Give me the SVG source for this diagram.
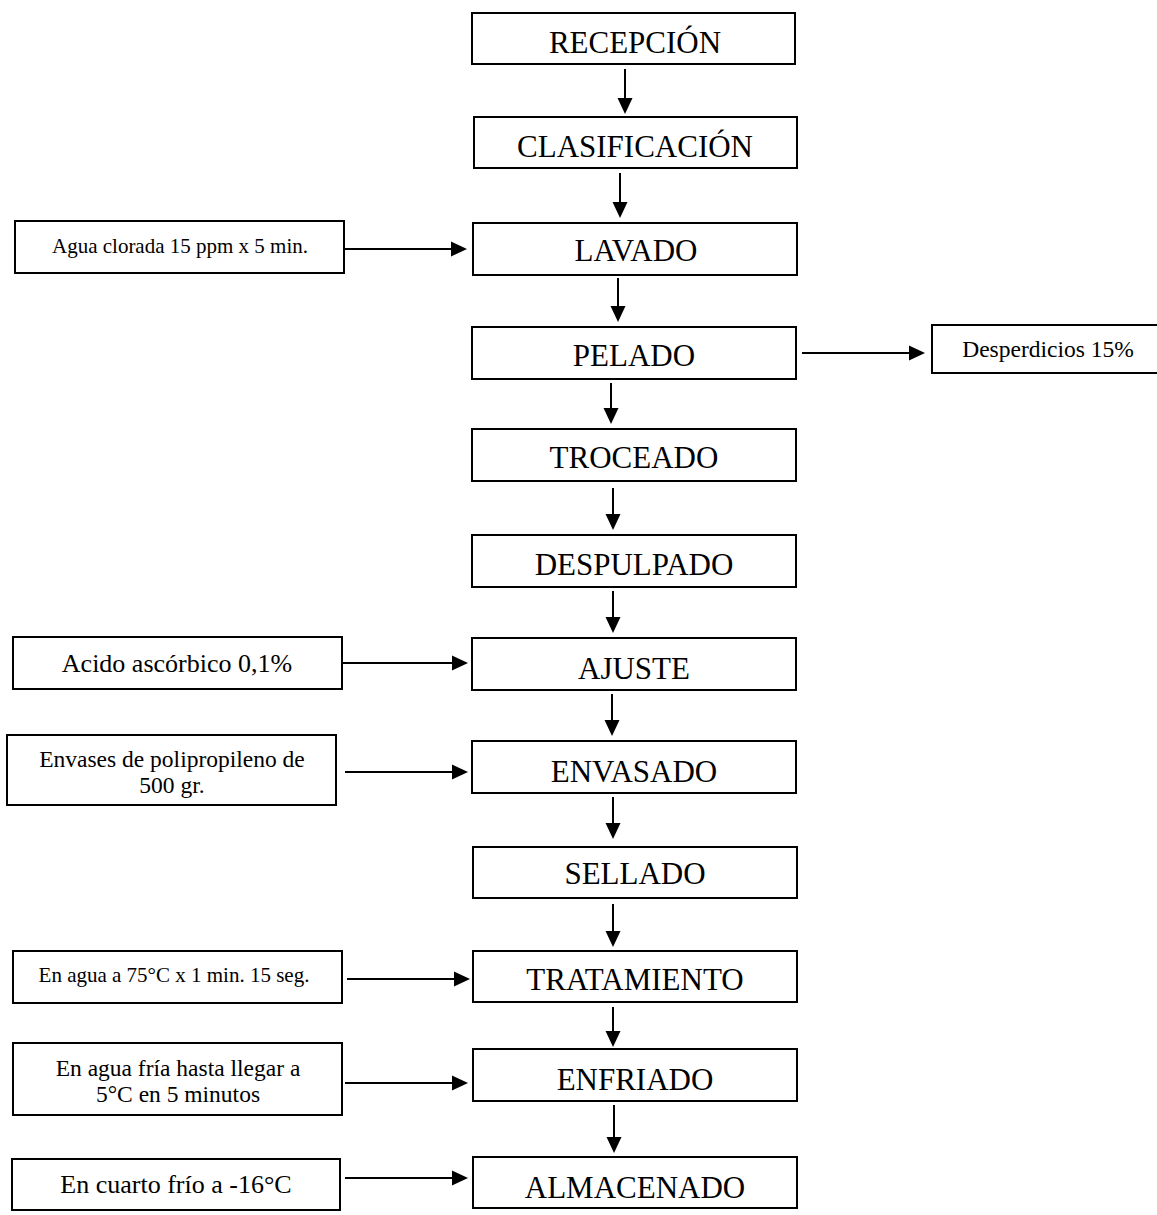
<svg xmlns="http://www.w3.org/2000/svg" width="1157" height="1215" viewBox="0 0 1157 1215">
<style>
rect{fill:#fff;stroke:#000;stroke-width:2}
text{font-family:"Liberation Serif","Times New Roman",serif;fill:#000;text-anchor:middle}
.m{font-size:31px}
.c line{stroke:#000;stroke-width:2;marker-end:url(#ah)}
</style>
<defs>
<marker id="ah" markerUnits="userSpaceOnUse" markerWidth="17" markerHeight="16" refX="0" refY="8" orient="auto" viewBox="0 0 17 16">
<path d="M0,0.5 L16,8 L0,15.5 z" fill="#000"/>
</marker>
</defs>
<rect x="0" y="0" width="1157" height="1215" style="stroke:none"/>
<g id="recepcion"><rect x="472" y="13" width="323" height="51"/><text class="m" x="635" y="53">RECEPCIÓN</text></g>
<g id="clasificacion"><rect x="474" y="117" width="323" height="51"/><text class="m" x="635" y="157">CLASIFICACIÓN</text></g>
<g id="lavado"><rect x="473" y="223" width="324" height="52"/><text class="m" x="636" y="261">LAVADO</text></g>
<g id="pelado"><rect x="472" y="327" width="324" height="52"/><text class="m" x="634" y="366">PELADO</text></g>
<g id="troceado"><rect x="472" y="429" width="324" height="52"/><text class="m" x="634" y="468">TROCEADO</text></g>
<g id="despulpado"><rect x="472" y="535" width="324" height="52"/><text class="m" x="634" y="575">DESPULPADO</text></g>
<g id="ajuste"><rect x="472" y="638" width="324" height="52"/><text class="m" x="634" y="679">AJUSTE</text></g>
<g id="envasado"><rect x="472" y="741" width="324" height="52"/><text class="m" x="634" y="782">ENVASADO</text></g>
<g id="sellado"><rect x="473" y="847" width="324" height="51"/><text class="m" x="635" y="884">SELLADO</text></g>
<g id="tratamiento"><rect x="473" y="951" width="324" height="51"/><text class="m" x="635" y="990">TRATAMIENTO</text></g>
<g id="enfriado"><rect x="473" y="1049" width="324" height="52"/><text class="m" x="635" y="1090">ENFRIADO</text></g>
<g id="almacenado"><rect x="473" y="1157" width="324" height="51"/><text class="m" x="635" y="1198">ALMACENADO</text></g>

<g id="agua"><rect x="15" y="221" width="329" height="52"/><text x="180" y="253" font-size="21">Agua clorada 15 ppm x 5 min.</text></g>
<g id="desperdicios"><rect x="932" y="325" width="230" height="48"/><text x="1048" y="357" font-size="23.5">Desperdicios 15%</text></g>
<g id="acido"><rect x="13" y="637" width="329" height="52"/><text x="177" y="672" font-size="26">Acido ascórbico 0,1%</text></g>
<g id="envases"><rect x="7" y="735" width="329" height="70"/><text x="172" y="767" font-size="23.5">Envases de polipropileno de</text><text x="172" y="793" font-size="23.5">500 gr.</text></g>
<g id="agua75"><rect x="13" y="951" width="329" height="52"/><text x="174" y="982" font-size="21">En agua a 75°C x 1 min. 15  seg.</text></g>
<g id="aguafria"><rect x="13" y="1043" width="329" height="72"/><text x="178" y="1076" font-size="23.5">En agua fría hasta llegar a</text><text x="178" y="1102" font-size="23.5">5°C en 5 minutos</text></g>
<g id="cuarto"><rect x="12" y="1159" width="328" height="51"/><text x="176" y="1193" font-size="26">En cuarto frío a -16°C</text></g>

<g id="connectors" class="c">
<line x1="625" y1="69" x2="625" y2="98"/>
<line x1="620" y1="173" x2="620" y2="202"/>
<line x1="618" y1="278" x2="618" y2="306"/>
<line x1="611" y1="383" x2="611" y2="408"/>
<line x1="613" y1="488" x2="613" y2="514"/>
<line x1="613" y1="591" x2="613" y2="617"/>
<line x1="612" y1="694" x2="612" y2="720"/>
<line x1="613" y1="797" x2="613" y2="823"/>
<line x1="613" y1="904" x2="613" y2="931"/>
<line x1="613" y1="1007" x2="613" y2="1031"/>
<line x1="614" y1="1105" x2="614" y2="1137"/>
<line x1="345" y1="249" x2="451" y2="249"/>
<line x1="802" y1="353" x2="909" y2="353"/>
<line x1="343" y1="663" x2="452" y2="663"/>
<line x1="345" y1="772" x2="452" y2="772"/>
<line x1="347" y1="979" x2="454" y2="979"/>
<line x1="345" y1="1083" x2="452" y2="1083"/>
<line x1="345" y1="1178" x2="452" y2="1178"/>
</g>
</svg>
